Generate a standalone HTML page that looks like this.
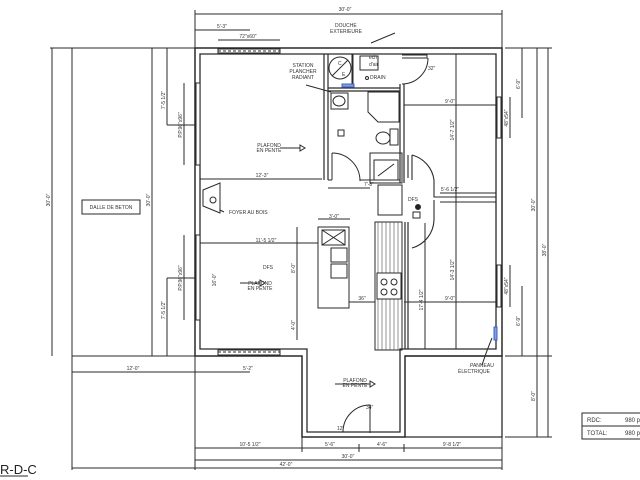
<!DOCTYPE html>
<html><head><meta charset="utf-8"><style>
html,body{margin:0;padding:0;background:#fff;}
svg{display:block;font-family:"Liberation Sans",sans-serif;}
text{font-size:5px;fill:#333;}
</style></head><body>
<svg width="640" height="480" viewBox="0 0 640 480" xmlns="http://www.w3.org/2000/svg">
<g stroke="#2a2a2a" fill="none" stroke-width="1">
<!-- slab -->
<line x1="50" y1="48" x2="195" y2="48"/>
<line x1="72" y1="48" x2="72" y2="470"/>
<line x1="72" y1="356" x2="195" y2="356"/>
<line x1="52" y1="48" x2="52" y2="356"/>
<line x1="152" y1="48" x2="152" y2="356"/>
<line x1="167" y1="48" x2="167" y2="125"/>
<line x1="167" y1="125" x2="195" y2="125"/>
<line x1="167" y1="278" x2="167" y2="356"/>
<line x1="167" y1="278" x2="195" y2="278"/>
<line x1="184" y1="83" x2="184" y2="165"/>
<line x1="184" y1="235" x2="184" y2="320"/>
<rect x="82" y="200" width="58" height="14"/>
<!-- top dims -->
<line x1="195" y1="14" x2="502" y2="14"/>
<line x1="195" y1="10" x2="195" y2="48"/>
<line x1="502" y1="10" x2="502" y2="48"/>
<line x1="195" y1="30" x2="250" y2="30"/>
<line x1="218" y1="40" x2="280" y2="40"/>
<!-- main outer walls -->
<path d="M195 48 H502 V356 H405 V437 H302 V356 H195 Z" stroke-width="1.5"/>
<path d="M200 54 H496 V349 H400 V432 H307 V349 H200 Z" stroke-width="1.3"/>
<path d="M405 356 H502 V437 H405" stroke-width="1.3"/>
<!-- windows -->
<rect x="218" y="49" width="62" height="4" fill="#fff"/>
<line x1="218" y1="51" x2="280" y2="51" stroke-dasharray="3 2"/>
<rect x="218" y="350" width="62" height="5" fill="#fff"/>
<line x1="218" y1="352" x2="280" y2="352" stroke-dasharray="3 2"/>
<rect x="196" y="83" width="4" height="82" fill="#fff"/>
<rect x="196" y="235" width="4" height="85" fill="#fff"/>
<rect x="497" y="97" width="4" height="41" fill="#fff"/>
<rect x="497" y="265" width="4" height="42" fill="#fff"/>
<!-- interior walls -->
<path d="M324 54 V180 M328 54 V180" stroke-width="1.2"/>
<path d="M328 88 H400 M328 91 H400" stroke-width="1.2"/>
<path d="M400 84 V183 M404 84 V183" stroke-width="1.2"/>
<path d="M402 55 H427 V58 H402"/>
<path d="M428 58 A26 26 0 0 1 402 84"/>
<rect x="352" y="54" width="1" height="34"/>
<circle cx="340" cy="68" r="11"/>
<line x1="332" y1="76" x2="348" y2="60"/>
<rect x="360" y="56" width="18" height="14"/>
<circle cx="367" cy="78" r="1.5"/>
<path d="M368 92 H399 V122 H378 L368 112 Z"/>
<rect x="331" y="93" width="17" height="16"/>
<ellipse cx="339" cy="101" rx="6" ry="5"/>
<ellipse cx="383" cy="138" rx="7" ry="6"/>
<rect x="390" y="129" width="8" height="16"/>
<rect x="338" y="130" width="6" height="6"/>
<rect x="342" y="84" width="12" height="3" fill="#7fa0e0" stroke="#4060c0"/>
<path d="M332 153 A28 28 0 0 1 360 181"/>
<line x1="332" y1="153" x2="332" y2="180"/>
<path d="M328 180 H332 M360 180 H400"/>
<rect x="370" y="153" width="32" height="30"/>
<rect x="374" y="160" width="24" height="20"/>
<line x1="378" y1="176" x2="394" y2="164"/>
<path d="M408 155 V178 M412 155 V180 M412 155 A30 30 0 0 1 434 180 V197 H496 M440 202 H496 M434 200 V220 A30 30 0 0 1 412 248" stroke-width="1.1"/>
<path d="M456 54 V349"/>
<rect x="378" y="185" width="24" height="30"/>
<circle cx="418" cy="207" r="2.5" fill="#222"/>
<rect x="413" y="212" width="7" height="6"/>
<!-- kitchen -->
<rect x="318" y="227" width="31" height="81"/>
<rect x="322" y="230" width="23" height="15"/>
<path d="M322 230 L345 245 M345 230 L322 245"/>
<rect x="331" y="248" width="16" height="14"/>
<rect x="331" y="264" width="16" height="14"/>
<path d="M375 222 H402 V350 H375 Z"/>
<path d="M378 222 V350 M382 222 V350 M386 222 V350 M390 222 V350 M394 222 V350 M398 222 V350" stroke-width="0.5"/>
<rect x="377" y="273" width="24" height="26" fill="#fff"/>
<circle cx="384" cy="282" r="3"/><circle cx="394" cy="282" r="3"/><circle cx="384" cy="292" r="3"/><circle cx="394" cy="292" r="3"/>
<path d="M405 222 V349 M408 222 V349" stroke-width="1.2"/>
<path d="M203 190 L220 183 V213 L203 206 Z"/>
<circle cx="213" cy="200" r="3"/>
<!-- room dims -->
<line x1="200" y1="179" x2="322" y2="179"/>
<line x1="200" y1="243" x2="318" y2="243"/>
<line x1="318" y1="219" x2="350" y2="219"/>
<line x1="297" y1="227" x2="297" y2="340"/>
<line x1="349" y1="302" x2="375" y2="302"/>
<line x1="328" y1="188" x2="370" y2="188"/>
<line x1="404" y1="105" x2="496" y2="105"/>
<line x1="404" y1="302" x2="496" y2="302"/>
<line x1="440" y1="193" x2="496" y2="193"/>
<line x1="425" y1="223" x2="425" y2="349"/>
<rect x="494" y="327" width="3" height="13" fill="#7fa0e0" stroke="#4060c0"/>
<path d="M492 338 Q487 350 482 365"/>
<path d="M370 433 V405 A27 27 0 0 0 343 432"/>
<path d="M306 85 L331 92 M395 33 L371 43 M224 212 L220 210"/>
<line x1="280" y1="148" x2="300" y2="148"/><path d="M300 145 L305 148 L300 151 Z"/>
<line x1="240" y1="283" x2="260" y2="283"/><path d="M260 280 L265 283 L260 286 Z"/>
<line x1="335" y1="384" x2="370" y2="384"/><path d="M370 381 L375 384 L370 387 Z"/>
<!-- right dims -->
<path d="M522 48 V118 M537 48 V356 M548 48 V437 M510 97 V138 M510 265 V307 M522 286 V356 M537 356 V437"/>
<path d="M505 48 H552 M505 356 H552 M505 437 H552"/>
<!-- bottom dims -->
<path d="M72 372 H195 M195 372 H250 M195 448 H502 M195 460 H502 M72 468 H502 M195 356 V470 M302 437 V452 M359 444 V452 M404 444 V452 M502 437 V470"/>
<!-- table -->
<rect x="582" y="413" width="60" height="26"/>
<line x1="582" y1="426" x2="640" y2="426"/>
<line x1="0" y1="476" x2="28" y2="476"/>
</g>
<g>
<text x="345" y="11" text-anchor="middle">30'-0"</text>
<text x="222" y="28" text-anchor="middle">5'-3"</text>
<text x="248" y="38" text-anchor="middle">72"x60"</text>
<text x="335" y="27">DOUCHE</text>
<text x="330" y="33">EXTERIEURE</text>
<text x="303" y="67" text-anchor="middle">STATION</text>
<text x="303" y="73" text-anchor="middle">PLANCHER</text>
<text x="303" y="79" text-anchor="middle">RADIANT</text>
<text x="269" y="147" text-anchor="middle">PLAFOND</text>
<text x="269" y="152" text-anchor="middle">EN PENTE</text>
<text x="262" y="177" text-anchor="middle">12'-3"</text>
<text x="229" y="214">FOYER AU BOIS</text>
<text x="111" y="209" text-anchor="middle" font-size="5">DALLE DE BETON</text>
<text x="266" y="242" text-anchor="middle">11'-5 1/2"</text>
<text x="263" y="269">DFS</text>
<text x="260" y="285" text-anchor="middle">PLAFOND</text>
<text x="260" y="290" text-anchor="middle">EN PENTE</text>
<text x="334" y="218" text-anchor="middle">3'-0"</text>
<text x="362" y="300" text-anchor="middle">36"</text>
<text x="364" y="186">7'-8"</text>
<text x="369" y="59">ech.</text>
<text x="369" y="66">d'air</text>
<text x="370" y="79">DRAIN</text>
<text x="338" y="65" font-size="9">C</text>
<text x="342" y="76" font-size="9">E</text>
<text x="428" y="70">32"</text>
<text x="450" y="103" text-anchor="middle">9'-0"</text>
<text x="450" y="191" text-anchor="middle">5'-6 1/2"</text>
<text x="450" y="300" text-anchor="middle">9'-0"</text>
<text x="408" y="201">DFS</text>
<text x="470" y="367">PANNEAU</text>
<text x="458" y="373">ÉLECTRIQUE</text>
<text x="355" y="382" text-anchor="middle">PLAFOND</text>
<text x="355" y="387" text-anchor="middle">EN PENTE</text>
<text x="366" y="409">34"</text>
<text x="337" y="430">12"</text>
<text x="248" y="370" text-anchor="middle">5'-2"</text>
<text x="133" y="370" text-anchor="middle">12'-0"</text>
<text x="250" y="446" text-anchor="middle">10'-5 1/2"</text>
<text x="330" y="446" text-anchor="middle">5'-6"</text>
<text x="382" y="446" text-anchor="middle">4'-6"</text>
<text x="452" y="446" text-anchor="middle">9'-8 1/2"</text>
<text x="348" y="458" text-anchor="middle">30'-0"</text>
<text x="286" y="466" text-anchor="middle">42'-0"</text>
<text x="0" y="474" style="font-size:13px;fill:#222">R-D-C</text>
<text x="587" y="422" style="font-size:6px">RDC:</text>
<text x="625" y="422" style="font-size:6px">980 p</text>
<text x="587" y="435" style="font-size:6px">TOTAL:</text>
<text x="625" y="435" style="font-size:6px">980 p</text>
<text transform="translate(50,200) rotate(-90)" text-anchor="middle">30'-0"</text>
<text transform="translate(150,200) rotate(-90)" text-anchor="middle">30'-0"</text>
<text transform="translate(165,100) rotate(-90)" text-anchor="middle">7'-5 1/2"</text>
<text transform="translate(182,125) rotate(-90)" text-anchor="middle">P.P.96"x96"</text>
<text transform="translate(165,310) rotate(-90)" text-anchor="middle">7'-5 1/2"</text>
<text transform="translate(182,278) rotate(-90)" text-anchor="middle">P.P.96"x96"</text>
<text transform="translate(520,84) rotate(-90)" text-anchor="middle">6'-9"</text>
<text transform="translate(508,118) rotate(-90)" text-anchor="middle">48"x54"</text>
<text transform="translate(535,205) rotate(-90)" text-anchor="middle">30'-0"</text>
<text transform="translate(546,250) rotate(-90)" text-anchor="middle">38'-0"</text>
<text transform="translate(508,286) rotate(-90)" text-anchor="middle">48"x54"</text>
<text transform="translate(520,321) rotate(-90)" text-anchor="middle">6'-9"</text>
<text transform="translate(535,396) rotate(-90)" text-anchor="middle">8'-0"</text>
<text transform="translate(454,130) rotate(-90)" text-anchor="middle">14'-7 1/2"</text>
<text transform="translate(454,270) rotate(-90)" text-anchor="middle">14'-3 1/2"</text>
<text transform="translate(423,300) rotate(-90)" text-anchor="middle">17'-4 1/2"</text>
<text transform="translate(295,268) rotate(-90)" text-anchor="middle">8'-0"</text>
<text transform="translate(295,325) rotate(-90)" text-anchor="middle">4'-0"</text>
<text transform="translate(216,280) rotate(-90)" text-anchor="middle">16'-0"</text>
</g>
</svg>
</body></html>
